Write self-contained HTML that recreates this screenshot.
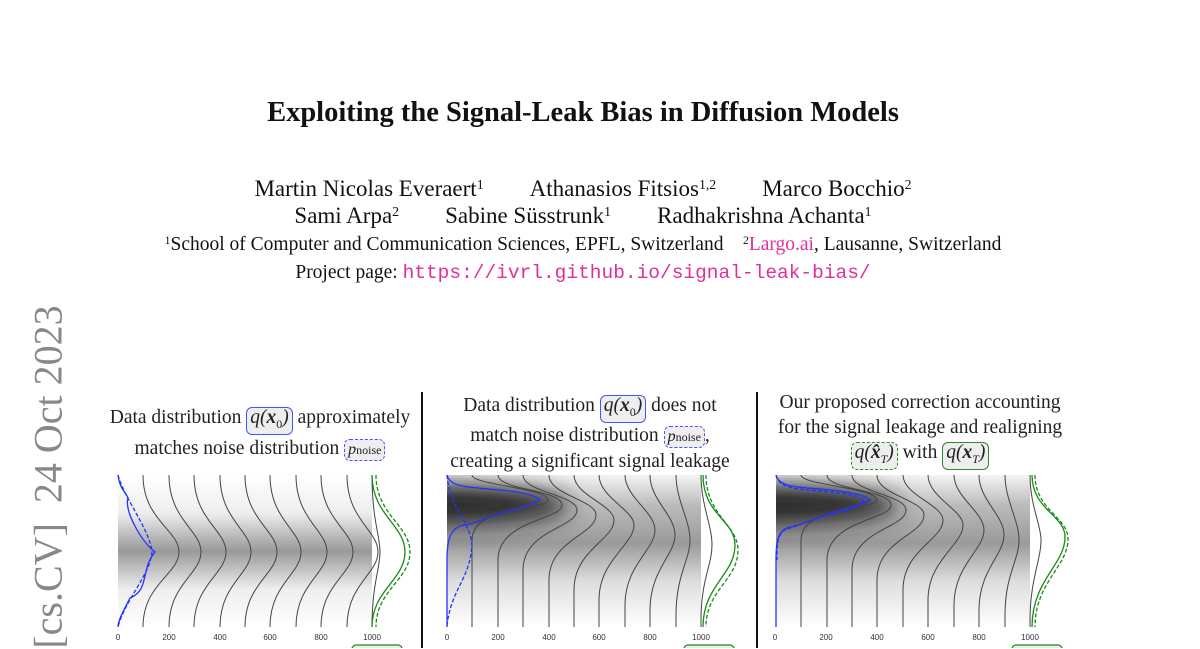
<!DOCTYPE html>
<html><head><meta charset="utf-8">
<style>
html,body{margin:0;padding:0;background:#fff;}
body{width:1200px;height:648px;position:relative;overflow:hidden;font-family:"Liberation Serif",serif;color:#111;}
.c{position:absolute;left:0;width:1166px;text-align:center;white-space:nowrap;}
.t{position:absolute;white-space:nowrap;}
sup{font-size:0.6em;vertical-align:0.5em;line-height:0;}
.pt{position:absolute;text-align:center;font-size:19.5px;line-height:26px;white-space:nowrap;color:#222;}
.bx{display:inline-block;padding:0 3px;border-radius:6px;background:#eee;line-height:19px;font-style:italic;vertical-align:baseline;}
.bs{border:1.5px solid #4455ff;}
.bd{border:1.5px dashed #4455ff;}
.gs{border:1.5px solid #2a8a2a;}
.gd{border:1.5px dashed #2a8a2a;}
</style></head><body>
<div class="c" style="top:97px;font-size:28.5px;font-weight:bold;">Exploiting the Signal-Leak Bias in Diffusion Models</div>
<div class="c" style="top:176px;font-size:23px;">Martin Nicolas Everaert<sup>1</sup>&nbsp;&nbsp;&nbsp;&nbsp;&nbsp;&nbsp;&nbsp;&nbsp;Athanasios Fitsios<sup>1,2</sup>&nbsp;&nbsp;&nbsp;&nbsp;&nbsp;&nbsp;&nbsp;&nbsp;Marco Bocchio<sup>2</sup></div>
<div class="c" style="top:203px;font-size:23px;">Sami Arpa<sup>2</sup>&nbsp;&nbsp;&nbsp;&nbsp;&nbsp;&nbsp;&nbsp;&nbsp;Sabine Süsstrunk<sup>1</sup>&nbsp;&nbsp;&nbsp;&nbsp;&nbsp;&nbsp;&nbsp;&nbsp;Radhakrishna Achanta<sup>1</sup></div>
<div class="c" style="top:234px;font-size:19.5px;"><sup>1</sup>School of Computer and Communication Sciences, EPFL, Switzerland&nbsp;&nbsp;&nbsp;&nbsp;<sup>2</sup><span style="color:#e0309a">Largo.ai</span>, Lausanne, Switzerland</div>
<div class="c" style="top:262px;font-size:19.5px;">Project page: <span style="font-family:'Liberation Mono',monospace;color:#e0309a;font-size:19.5px;">https://ivrl.github.io/signal-leak-bias/</span></div>

<div class="t" style="left:48px;top:477px;transform:translate(-50%,-50%) rotate(-90deg);font-size:40px;color:#888;">[cs.CV]&nbsp;&nbsp;24 Oct 2023</div>

<div style="position:absolute;left:421px;top:392px;width:1.5px;height:256px;background:#111"></div>
<div style="position:absolute;left:756px;top:392px;width:1.5px;height:256px;background:#111"></div>

<div class="pt" style="left:100px;width:320px;top:404px;line-height:27px;">Data distribution <span class="bx bs">q(<b>x</b><sub style="font-style:normal;font-size:12px">0</sub>)</span> approximately<br>matches noise distribution <span class="bx bd" style="font-size:16px">p<span style="font-style:normal;font-size:12px">noise</span></span></div>
<div class="pt" style="left:430px;width:320px;top:393px;">Data distribution <span class="bx bs">q(<b>x</b><sub style="font-style:normal;font-size:12px">0</sub>)</span> does not<br>match noise distribution <span class="bx bd" style="font-size:16px">p<span style="font-style:normal;font-size:12px">noise</span></span>,<br>creating a significant signal leakage</div>
<div class="pt" style="left:760px;width:320px;top:390px;line-height:25px;">Our proposed correction accounting<br>for the signal leakage and realigning<br><span class="bx gd">q(<b>x̂</b><sub style="font-size:12px">T</sub>)</span> with <span class="bx gs">q(<b>x</b><sub style="font-size:12px">T</sub>)</span></div>

<svg width="1200" height="648" style="position:absolute;left:0;top:0" xmlns="http://www.w3.org/2000/svg">
<defs>
<linearGradient id="g1" x1="0" y1="0" x2="0" y2="1">
<stop offset="0" stop-color="#fff"/><stop offset="0.25" stop-color="#eee"/><stop offset="0.5" stop-color="#999"/><stop offset="0.75" stop-color="#eee"/><stop offset="1" stop-color="#fff"/></linearGradient>
<linearGradient id="g2" x1="0" y1="0" x2="0" y2="1">
<stop offset="0" stop-color="#f4f4f4"/><stop offset="0.2" stop-color="#bbb"/><stop offset="0.45" stop-color="#9a9a9a"/><stop offset="0.7" stop-color="#ddd"/><stop offset="1" stop-color="#fff"/></linearGradient>
<filter id="bl" x="-50%" y="-100%" width="200%" height="300%"><feGaussianBlur stdDeviation="12"/></filter>
<clipPath id="c2"><rect x="447" y="475" width="254" height="152"/></clipPath>
<clipPath id="c3"><rect x="776" y="475" width="254" height="152"/></clipPath>
</defs>
<g font-family="Liberation Sans, sans-serif" font-size="8" fill="#333" text-anchor="middle">
<text x="118" y="640">0</text><text x="169" y="640">200</text><text x="220" y="640">400</text><text x="270" y="640">600</text><text x="321" y="640">800</text><text x="372" y="640">1000</text>
<text x="447" y="640">0</text><text x="498" y="640">200</text><text x="549" y="640">400</text><text x="599" y="640">600</text><text x="650" y="640">800</text><text x="701" y="640">1000</text>
<text x="775" y="640">0</text><text x="826" y="640">200</text><text x="877" y="640">400</text><text x="928" y="640">600</text><text x="979" y="640">800</text><text x="1030" y="640">1000</text>
</g>
<!-- panel1 -->
<rect x="118" y="475" width="254" height="152" fill="url(#g1)"/>
<g fill="none" stroke="#444" stroke-width="1">
<path d="M143,475 C143,520 179,530 179,552 C179,574 143,584 143,627"/>
<path d="M169,475 C169,520 201,530 201,552 C201,574 169,584 169,627"/>
<path d="M194,475 C194,520 226,530 226,552 C226,574 194,584 194,627"/>
<path d="M220,475 C220,520 251,530 251,552 C251,574 220,584 220,627"/>
<path d="M245,475 C245,520 277,530 277,552 C277,574 245,584 245,627"/>
<path d="M270,475 C270,520 301,530 301,552 C301,574 270,584 270,627"/>
<path d="M296,475 C296,520 327,530 327,552 C327,574 296,584 296,627"/>
<path d="M321,475 C321,520 353,530 353,552 C353,574 321,584 321,627"/>
<path d="M347,475 C347,520 378,530 378,552 C378,574 347,584 347,627"/>
<path d="M372,475 C372,520 380,535 380,552 C380,569 372,584 372,627"/>
</g>
<g fill="none" stroke="#2233ff" stroke-width="1.3">
<path d="M118,475 C120,490 126,492 128,498 C124,510 140,540 155,552 C140,570 150,590 130,598 C124,610 118,620 118,627"/>
<path d="M118,475 C125,500 150,530 152,552 C150,575 125,600 118,627" stroke-dasharray="4,2"/>
</g>
<g fill="none" stroke="#1a8a1a" stroke-width="1.3">
<path d="M372,475 C372,515 405,525 405,552 C405,580 372,590 372,627"/>
<path d="M376,475 C376,515 410,525 410,552 C410,580 376,590 376,627" stroke-dasharray="4,2"/>
</g>
<!-- panel2 -->
<rect x="447" y="475" width="254" height="152" fill="url(#g2)"/>
<g clip-path="url(#c2)"><ellipse cx="440" cy="505" rx="130" ry="20" fill="#222" filter="url(#bl)"/></g>
<g fill="none" stroke="#444" stroke-width="1">
<path d="M472,475 C472,485 548,488 548,500 C548,510 472,505 472,540 L472,627"/>
<path d="M498,475 C498,490 562,490 562,505 C562,520 498,520 498,560 L498,627"/>
<path d="M523,475 C523,492 577,495 577,510 C577,528 523,530 523,570 L523,627"/>
<path d="M549,475 C549,495 596,500 596,515 C596,535 549,540 549,580 L549,627"/>
<path d="M574,475 C574,495 614,505 614,520 C614,540 574,550 574,590 L574,627"/>
<path d="M599,475 C599,497 634,510 634,525 C634,545 599,560 599,600 L599,627"/>
<path d="M625,475 C625,497 655,512 655,530 C655,550 625,565 625,605 L625,627"/>
<path d="M650,475 C650,500 675,515 675,535 C675,555 650,570 650,610 L650,627"/>
<path d="M676,475 C676,500 690,520 690,540 C690,560 676,575 676,615 L676,627"/>
<path d="M701,475 C701,505 712,525 712,545 C712,565 701,580 701,620 L701,627"/>
</g>
<g fill="none" stroke="#2233ff" stroke-width="1.3">
<path d="M447,475 C450,488 470,487 500,490 C520,492 535,495 540,500 C530,505 520,508 505,512 C480,520 470,525 465,525 C450,527 447,540 447,560 L447,627"/>
<path d="M447,475 C450,510 470,520 472,545 C470,580 450,590 447,627" stroke-dasharray="4,2"/>
</g>
<g fill="none" stroke="#1a8a1a" stroke-width="1.3">
<path d="M703,475 C703,515 735,520 735,545 C735,575 703,585 703,627"/>
<path d="M706,475 C706,515 738,525 738,550 C738,580 706,590 706,627" stroke-dasharray="4,2"/>
</g>
<!-- panel3 -->
<rect x="776" y="475" width="254" height="152" fill="url(#g2)"/>
<g clip-path="url(#c3)"><ellipse cx="769" cy="505" rx="130" ry="20" fill="#222" filter="url(#bl)"/></g>
<g fill="none" stroke="#444" stroke-width="1">
<path d="M801,475 C801,485 877,488 877,500 C877,510 801,505 801,540 L801,627"/>
<path d="M827,475 C827,490 891,490 891,505 C891,520 827,520 827,560 L827,627"/>
<path d="M852,475 C852,492 906,495 906,510 C906,528 852,530 852,570 L852,627"/>
<path d="M877,475 C877,495 924,500 924,515 C924,535 877,540 877,580 L877,627"/>
<path d="M903,475 C903,495 943,505 943,520 C943,540 903,550 903,590 L903,627"/>
<path d="M928,475 C928,497 963,510 963,525 C963,545 928,560 928,600 L928,627"/>
<path d="M954,475 C954,497 984,512 984,530 C984,550 954,565 954,605 L954,627"/>
<path d="M979,475 C979,500 1004,515 1004,535 C1004,555 979,570 979,610 L979,627"/>
<path d="M1005,475 C1005,500 1019,520 1019,540 C1019,560 1005,575 1005,615 L1005,627"/>
<path d="M1030,475 C1030,505 1041,525 1041,540 C1041,560 1030,580 1030,620 L1030,627"/>
</g>
<g fill="none" stroke="#2233ff" stroke-width="1.3">
<path d="M776,475 C779,488 800,487 830,490 C850,492 865,495 870,500 C860,505 850,508 835,512 C810,520 800,525 790,527 C778,530 776,540 776,560 L776,627"/>
<path d="M776,475 C779,490 800,489 830,492 C850,494 862,497 864,500 C862,505 850,510 835,513 C810,520 800,525 790,528 C778,531 777,540 777,560" stroke-dasharray="4,2"/>
</g>
<g fill="none" stroke="#1a8a1a" stroke-width="1.3">
<path d="M1032,475 C1032,510 1065,515 1065,537 C1065,565 1032,580 1032,627"/>
<path d="M1035,475 C1035,510 1068,517 1068,539 C1068,567 1035,582 1035,627" stroke-dasharray="4,2"/>
</g>
<rect x="352" y="645" width="50" height="10" rx="4" fill="#eee" stroke="#1a8a1a" stroke-width="1.2"/>
<rect x="684" y="645" width="50" height="10" rx="4" fill="#eee" stroke="#1a8a1a" stroke-width="1.2"/>
<rect x="1012" y="645" width="50" height="10" rx="4" fill="#eee" stroke="#1a8a1a" stroke-width="1.2"/>
</svg>
</body></html>
